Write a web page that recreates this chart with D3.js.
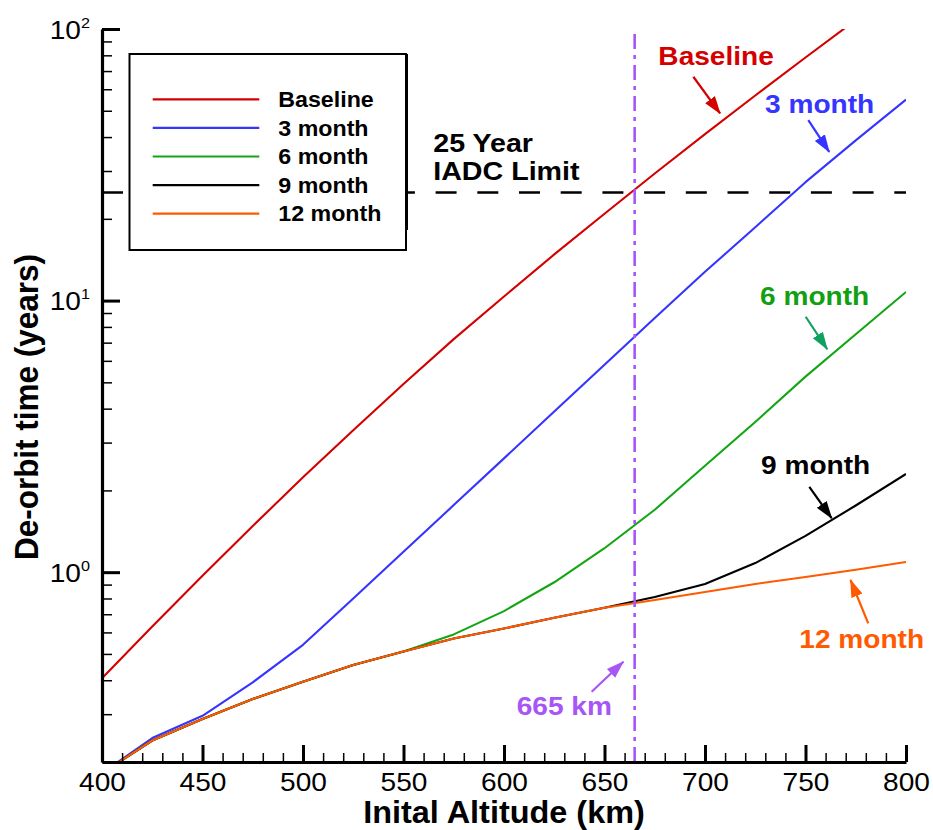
<!DOCTYPE html>
<html><head><meta charset="utf-8">
<script src="https://cdn.jsdelivr.net/npm/d3@7"></script>
<style>
html,body{margin:0;padding:0;background:#fff;}
svg{display:block;font-family:"Liberation Sans",Arial,Helvetica,sans-serif;}
</style>
</head><body>
<svg id="chart" width="933" height="830"></svg>
<script>
// ---------------- data ----------------
const altitudes   = [400,425,450,475,500,525,550,575,600,625,650,675,700,725,750,775,800];
const baseline    = [0.407,0.631,0.971,1.479,2.234,3.334,4.932,7.211,10.35,14.79,20.89,29.38,41.02,56.89,78.52,107.9,null];
const month3      = [0.182,0.245,0.296,0.393,0.54,0.80,1.189,1.766,2.624,3.908,5.808,8.630,12.76,18.62,27.29,38.90,54.95];
const month6      = [0.182,0.24,0.288,0.341,0.395,0.455,0.51,0.590,0.719,0.918,1.225,1.698,2.466,3.573,5.248,7.516,10.76];
const month9      = [0.182,0.24,0.288,0.341,0.395,0.455,0.51,0.57,0.62,0.68,0.74,0.81,0.905,1.08,1.36,1.76,2.3];
const month12     = [0.182,0.24,0.288,0.341,0.395,0.455,0.51,0.57,0.62,0.68,0.74,0.79,0.845,0.905,0.96,1.02,1.09];
const seriesNames = ["Baseline","3 month","6 month","9 month","12 month"];
const seriesValues = [baseline, month3, month6, month9, month12];

const xMajorTicks = [400,450,500,550,600,650,700,750,800];
const xMinorTicks = d3.range(400, 801, 10);
const yMajorTicks = [1,10,100];
const yTickExponents = ["0","1","2"];
const yMinorTicks = [0.2,0.3,0.4,0.5,0.6,0.7,0.8,0.9,2,3,4,5,6,7,8,9,20,30,40,50,60,70,80,90];

const limitYears = 25;                 // IADC 25-year limit
const limitLabelLines = ["25 Year","IADC Limit"];
const limitLabelAlt = 564.8;
const limitLabelYears = [35.3, 27.8];
const markAltitude = 665;

// annotation labels and arrows (data coordinates)
const annLabels = ["Baseline","3 month","6 month","9 month","12 month","665 km"];
const annLabelAlt = [676.8,729.9,727.4,727.9,746.9,606.3];
const annLabelYears = [73.7,48.9,9.63,2.30,0.524,0.298];
const arrowFromAlt = [694.2,751.4,750.1,751.9,781.2,643.6];
const arrowFromYears = [66.7,46.2,8.72,2.06,0.648,0.363];
const arrowToAlt = [707.5,761.8,760.8,763.0,772.4,659.4];
const arrowToYears = [48.9,35.3,6.62,1.58,0.936,0.468];

const xTitle = "Inital Altitude (km)";
const yTitle = "De-orbit time (years)";

// ---------------- styles ----------------
const lineColors = ["#d40000","#3535ff","#14a514","#000000","#ff5a00"];
const annTextColors = ["#d40000","#3535ff","#12a012","#000000","#ff5a00","#a855f7"];
const annArrowColors = ["#d40000","#3535ff","#10a060","#000000","#ff5a00","#a855f7"];
const purple = "#a855f7";
const SX = 1.08;

const svg = d3.select("#chart");
const L = 102, R = 906, T = 29, B = 762;
const x = d3.scaleLinear().domain([400,800]).range([L,R]);
const y = d3.scaleLog().domain([0.2,100]).range([B,T]);

function stext(g, px, py, txt, opts){
  return g.append("text")
    .attr("transform", `translate(${px},${py}) scale(${opts.sx||SX},1)`)
    .attr("text-anchor", opts.anchor||"start")
    .attr("font-size", opts.size||26)
    .attr("font-weight", opts.weight||"normal")
    .attr("fill", opts.fill||"#000")
    .text(txt);
}

// clip
svg.append("defs").append("clipPath").attr("id","plotclip")
  .append("rect").attr("x",L).attr("y",T).attr("width",R-L).attr("height",B-T);

// markers
const defs = svg.select("defs");
annArrowColors.forEach((c,i)=>{
  defs.append("marker").attr("id","ah"+i)
    .attr("markerUnits","userSpaceOnUse")
    .attr("viewBox","0 -7 18 14").attr("refX",17).attr("refY",0)
    .attr("markerWidth",18).attr("markerHeight",14).attr("orient","auto")
    .append("path").attr("d","M0,-6L18,0L0,6Z").attr("fill",c);
});

// 25-year limit dashed line
svg.append("line")
  .attr("x1",x(400)).attr("x2",x(800)).attr("y1",y(limitYears)).attr("y2",y(limitYears))
  .attr("stroke","#000").attr("stroke-width",2.6).attr("stroke-dasharray","21,20.7");

// series lines
const plot = svg.append("g").attr("clip-path","url(#plotclip)");
const lineGen = d3.line()
  .defined(d=>d.v!=null)
  .x(d=>x(d.alt)).y(d=>y(d.v));
seriesValues.forEach((vals,i)=>{
  const pts = altitudes.map((a,j)=>({alt:a, v:vals[j]}));
  plot.append("path").datum(pts)
    .attr("d",lineGen).attr("fill","none")
    .attr("stroke",lineColors[i]).attr("stroke-width",2.1)
    .attr("stroke-linejoin","round");
});

// vertical 665 km dash-dot line
svg.append("line")
  .attr("x1",x(markAltitude)).attr("x2",x(markAltitude)).attr("y1",B).attr("y2",T)
  .attr("stroke",purple).attr("stroke-width",2.6).attr("stroke-dasharray","15,6,4,6");

// axes
const gx = svg.append("g").attr("transform",`translate(0,${B})`);
gx.call(d3.axisBottom(x).tickValues(xMinorTicks).tickSize(-9).tickSizeOuter(0).tickFormat(""));
gx.selectAll(".tick line").attr("stroke-width",1.5);
gx.select(".domain").remove();
const gx2 = svg.append("g").attr("transform",`translate(0,${B})`);
gx2.call(d3.axisBottom(x).tickValues(xMajorTicks).tickSize(-17).tickSizeOuter(0).tickFormat(""));
gx2.selectAll(".tick line").attr("stroke-width",3);
gx2.select(".domain").attr("stroke-width",3.2);
gx2.selectAll(".tick").each(function(d){
  stext(d3.select(this), 0, 29, d3.format("d")(d), {anchor:"middle", size:26});
});

const gy = svg.append("g").attr("transform",`translate(${L},0)`);
gy.call(d3.axisLeft(y).tickValues(yMinorTicks).tickSize(-10).tickSizeOuter(0).tickFormat(""));
gy.selectAll(".tick line").attr("stroke-width",1.5);
gy.select(".domain").remove();
const gy2 = svg.append("g").attr("transform",`translate(${L},0)`);
gy2.call(d3.axisLeft(y).tickValues(yMajorTicks).tickSize(-18).tickSizeOuter(0).tickFormat(""));
gy2.selectAll(".tick line").attr("stroke-width",3);
gy2.select(".domain").attr("stroke-width",3.2);
gy2.selectAll(".tick").each(function(d,i){
  const t = d3.select(this).append("text")
    .attr("transform",`translate(-12,9) scale(${SX},1)`)
    .attr("text-anchor","end").attr("font-size",26).attr("fill","#000");
  t.append("tspan").text("10");
  t.append("tspan").attr("font-size",15).attr("dy",-11).text(yTickExponents[i]);
});

// axis titles
stext(svg, (L+R)/2, 823, xTitle, {anchor:"middle", size:31.5, weight:"bold", sx:1.03});
svg.append("text")
  .attr("transform",`translate(38,407) rotate(-90) scale(1,${SX})`)
  .attr("text-anchor","middle").attr("font-size",31.5).attr("font-weight","bold")
  .attr("fill","#000").text(yTitle);

// limit label
limitLabelLines.forEach((t,i)=>{
  stext(svg, x(limitLabelAlt), y(limitLabelYears[i]), t, {size:26.5, weight:"bold"});
});

// annotations
annLabels.forEach((t,i)=>{
  stext(svg, x(annLabelAlt[i]), y(annLabelYears[i]), t, {size:26, weight:"bold", fill:annTextColors[i]});
  svg.append("line")
    .attr("x1",x(arrowFromAlt[i])).attr("y1",y(arrowFromYears[i]))
    .attr("x2",x(arrowToAlt[i])).attr("y2",y(arrowToYears[i]))
    .attr("stroke",annArrowColors[i]).attr("stroke-width",2.2)
    .attr("marker-end",`url(#ah${i})`);
});

// legend
const lg = svg.append("g");
const lgX = 129.5, lgY = 54, lgW = 276.5, lgH = 196;
lg.append("rect").attr("x",lgX).attr("y",lgY).attr("width",lgW).attr("height",lgH)
  .attr("fill","#fff").attr("stroke","#000").attr("stroke-width",2);
lg.append("line").attr("x1",lgX+lgW+0.5).attr("x2",lgX+lgW+0.5).attr("y1",lgY).attr("y2",lgY+176)
  .attr("stroke","#000").attr("stroke-width",3);
seriesNames.forEach((n,i)=>{
  const ry = 99.3 + i*28.6;
  lg.append("line").attr("x1",152.7).attr("x2",259.3).attr("y1",ry).attr("y2",ry)
    .attr("stroke",lineColors[i]).attr("stroke-width",2.2);
  stext(lg, 278.3, ry+7.7, n, {size:21.5, weight:"bold"});
});
</script>
</body></html>
